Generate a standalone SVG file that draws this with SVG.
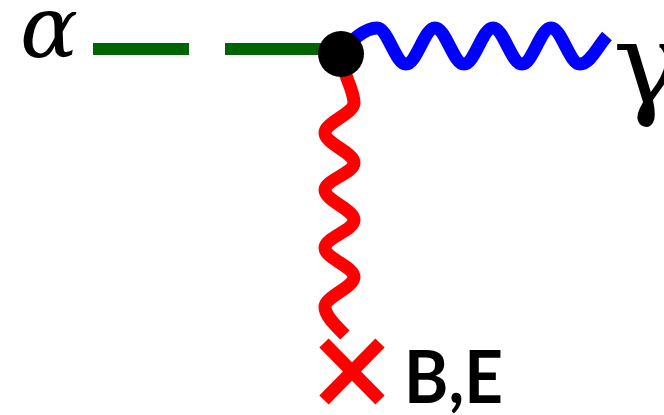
<svg xmlns="http://www.w3.org/2000/svg" width="664" height="415" viewBox="0 0 664 415">
  <style>
    .wire { fill: none; stroke-width: 13; stroke-linecap: butt; stroke-linejoin: round; }
    .scalar { stroke: #006400; stroke-width: 12; }
    .photon { stroke: #0000ff; }
    .field { stroke: #ff0000; }
    .greek { font-family: "DejaVu Serif", "Liberation Serif", serif; fill: #000; }
    .lbl { font-family: Lato, "Liberation Sans", Arial, sans-serif; font-weight: bold; fill: #000; }
  </style>
  <rect width="664" height="415" fill="#ffffff"/>
  <g id="connectors">
    <path id="alpha-line" class="wire scalar" d="M93 49H189M225 49H335"/>
    <path id="gamma-line" class="wire photon" d="M341 54C350 40 366 28 377 28C387.5 28 395.5 64 406 64C416.5 64 424.5 28 435 28C445.5 28 453.5 64 464 64C474.5 64 482.5 28 493 28C503.5 28 511.5 64 522 64C532.5 64 540.5 28 551 28C561.5 28 569.5 64 580 64C590 64 598 46 607 36"/>
    <path id="field-line" class="wire field" d="M341 54C341 72 354 88 354 103C354 113.5 325 122.5 325 133C325 143.5 354 152.5 354 163C354 173 325 180 325 190C325 200.5 354 209.5 354 220C354 230.5 325 237.5 325 248C325 258.5 354 266.5 354 277C354 287.5 325 296.5 325 307C325 316 336 326 345 335"/>
  </g>
  <g id="vertex">
    <circle cx="341" cy="54" r="23" fill="#000"/>
  </g>
  <g id="alpha">
    <text class="greek" x="20" y="57" font-size="86" font-style="italic">α</text>
  </g>
  <g id="gamma">
    <text class="greek" x="613" y="103" font-size="115">γ</text>
  </g>
  <g id="source">
    <path class="wire field" d="M324 343L380 400M380 343L324 400"/>
    <text class="lbl" x="404" y="403" font-size="73" textLength="99" lengthAdjust="spacingAndGlyphs">B,E</text>
  </g>
</svg>
